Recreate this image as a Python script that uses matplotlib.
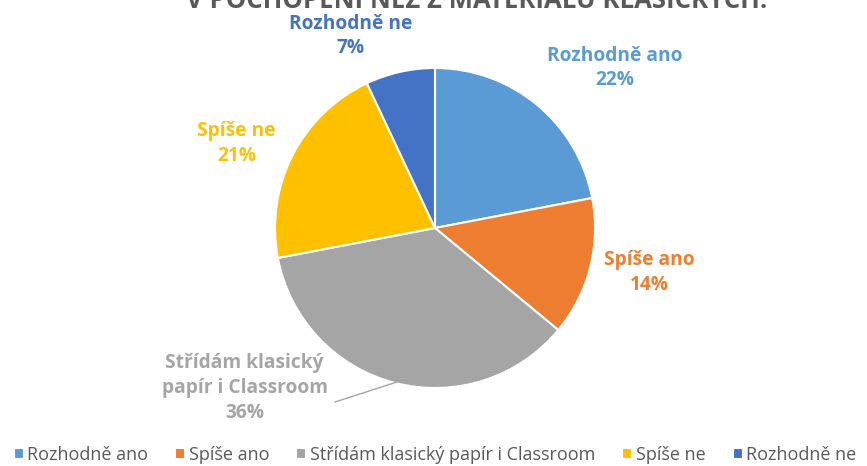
import matplotlib
matplotlib.use("Agg")
import matplotlib.pyplot as plt

plt.rcParams['font.family'] = ['Open Sans', 'DejaVu Sans']

# data
categories = ['Rozhodně ano', 'Spíše ano', 'Střídám klasický papír i Classroom', 'Spíše ne', 'Rozhodně ne']
label_names = ['Rozhodně ano', 'Spíše ano', 'Střídám klasický\npapír i Classroom', 'Spíše ne', 'Rozhodně ne']
values = [22, 14, 36, 21, 7]
colors = ['#5B9BD5', '#ED7D31', '#A5A5A5', '#FFC000', '#4472C4']
title = 'V POCHOPENÍ NEŽ Z MATERIÁLŮ KLASICKÝCH.'

W, H = 867, 466
fig = plt.figure(figsize=(W / 100, H / 100), dpi=100)

# pie centre (435, 228) px, radius 160 px
cx, cy, r = 435, 228, 160
ax = fig.add_axes([(cx - r) / W, 1 - (cy + r) / H, 2 * r / W, 2 * r / H])
wedges, _ = ax.pie(values, colors=colors, startangle=90, counterclock=False,
                   radius=1, wedgeprops=dict(edgecolor='white', linewidth=1.5))
ax.set_xlim(-1, 1)
ax.set_ylim(-1, 1)
ax.set_aspect('equal')
ax.axis('off')

# label positions in pie units (hand placed like the excel labels)
lab_pos = [(1.125, 1.0), (1.34, -0.28), (-1.19, -1.0), (-1.24, 0.53), (-0.53, 1.2)]
total = sum(values)
for name, v, c, (x, y) in zip(label_names, values, colors, lab_pos):
    ax.text(x, y, f"{name}\n{round(100 * v / total)}%", color=c, fontsize=13.75,
            fontweight='bold', ha='center', va='center', linespacing=1.32,
            clip_on=False)

# leader line for the grey slice
ax.plot([-0.625, -0.2375], [-1.0875, -0.9625], color='#A5A5A5', lw=1, clip_on=False)

# title is cut off at the top edge, same as the original screenshot
fig.text(477 / W, 1.0, title, ha='center', va='center', fontsize=18.5,
         fontweight='bold', color='#595959')

fig.legend(wedges, categories, ncol=5, loc='lower left', bbox_to_anchor=(-0.003, -0.03),
           frameon=False, fontsize=13, handlelength=0.55, handleheight=0.55,
           handletextpad=0.2, columnspacing=1.5, labelcolor='#595959')

fig.savefig('out.png', dpi=100)
